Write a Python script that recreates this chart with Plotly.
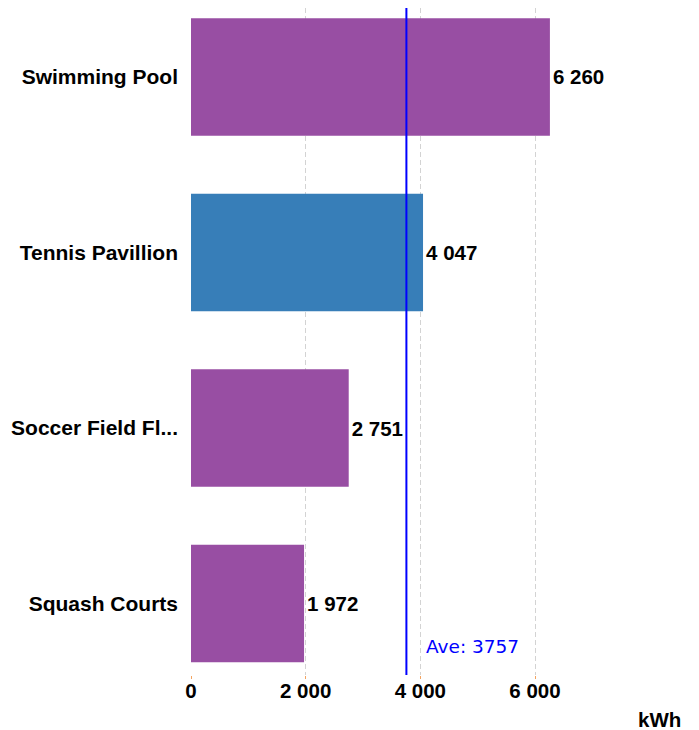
import plotly.graph_objects as go

categories = ["Swimming Pool", "Tennis Pavillion", "Soccer Field Fl...", "Squash Courts"]
values = [6260, 4047, 2751, 1972]
bar_colors = ["#984ea3", "#377eb8", "#984ea3", "#984ea3"]
tick_vals = [0, 2000, 4000, 6000]
tick_text = ["0", "2 000", "4 000", "6 000"]
average = 3757
unit = "kWh"

BOLD = "Liberation Sans"

fig = go.Figure()
fig.add_trace(go.Bar(
    y=list(range(len(categories))),
    x=values,
    orientation="h",
    marker=dict(color=bar_colors, line=dict(width=0)),
    text=[f"{v:,}".replace(",", " ") for v in values],
    textposition="outside",
    textfont=dict(family=BOLD, size=20.5, color="black", weight="bold"),
    cliponaxis=False,
    width=0.67,
    hoverinfo="skip",
))

fig.add_shape(type="line", xref="x", yref="paper", x0=average, x1=average, y0=0, y1=1,
              line=dict(color="#0000ff", width=2))
fig.add_annotation(x=average, xref="x", y=0.043, yref="paper", text=f"Ave: {average}",
                   showarrow=False, xanchor="left", yanchor="middle", xshift=18,
                   font=dict(family="DejaVu Sans", size=18.5, color="#0000ff"))
fig.add_annotation(x=1.144, xref="paper", y=-0.047, yref="paper", text=unit,
                   showarrow=False, xanchor="right", yanchor="top",
                   font=dict(family=BOLD, size=20.5, color="black", weight="bold"))

fig.update_layout(
    width=691, height=722,
    margin=dict(l=183, r=78, t=0, b=55),
    plot_bgcolor="white", paper_bgcolor="white",
    showlegend=False,
    xaxis=dict(range=[0, 7500], tickvals=tick_vals, ticktext=tick_text,
               showgrid=True, gridcolor="#d3d3d3", griddash="5px,3px", gridwidth=1,
               zeroline=False, showline=False,
               ticks="outside", ticklen=3, tickcolor="#f4a460",
               ticklabelstandoff=-6,
               tickfont=dict(family=BOLD, size=20.5, color="black", weight="bold")),
    yaxis=dict(range=[3.407, -0.393], tickvals=list(range(len(categories))), ticktext=categories,
               showgrid=False, zeroline=False, showline=False, ticks="",
               ticklabelstandoff=12,
               tickfont=dict(family=BOLD, size=21, color="black", weight="bold")),
)

fig.write_html("out.html")
